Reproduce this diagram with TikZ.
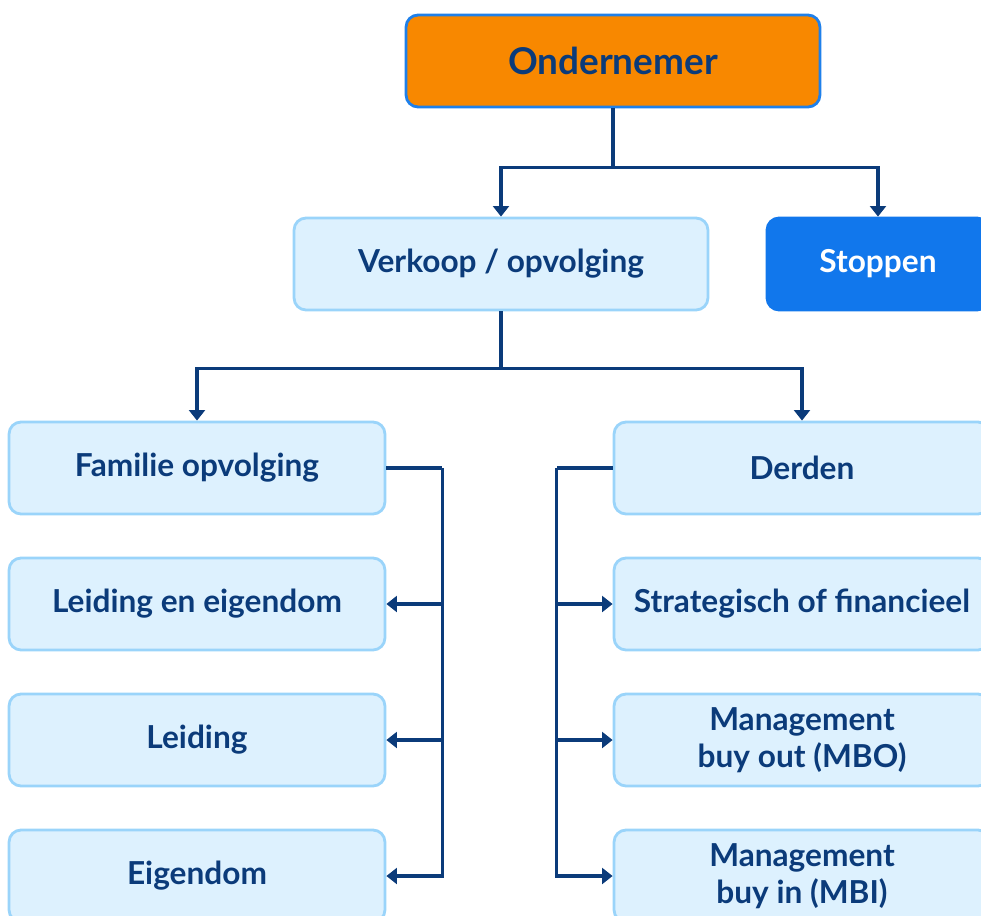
\documentclass[tikz,border=0pt]{standalone}
\usepackage{fontspec}
\setmainfont{Lato}
\usetikzlibrary{arrows.meta}
\definecolor{navy}{HTML}{0B3B7A}
\definecolor{oranje}{HTML}{F88800}
\definecolor{oranjerand}{HTML}{1F80EA}
\definecolor{lichtblauw}{HTML}{DDF1FE}
\definecolor{lichtrand}{HTML}{9AD4FA}
\definecolor{stopblauw}{HTML}{1177EC}
\def\BoxH{1.84cm}
\def\ColW{7.52cm}
\tikzset{
  every node/.style={font=\bfseries\fontsize{18}{21}\selectfont},
  keuze/.style={draw=lichtrand, fill=lichtblauw, text=navy, line width=1.6pt,
    rounded corners=0.24cm, minimum height=\BoxH, minimum width=\ColW,
    align=center, inner sep=0pt},
  pijl/.style={draw=navy, line width=1.8pt, -{Triangle[length=6pt,width=9pt]}},
  lijn/.style={draw=navy, line width=1.8pt}
}

\begin{document}
\begin{tikzpicture}[x=0.02cm, y=-0.02cm]
  \clip (0,0) rectangle (981,916);

  % bovenste niveau
  \node[keuze, fill=oranje, draw=oranjerand, minimum width=8.28cm,
        font=\bfseries\fontsize{21}{25}\selectfont] (ond) at (613,61) {Ondernemer};
  \node[keuze, minimum width=8.28cm] (verk) at (501,264) {Verkoop / opvolging};
  \node[keuze, fill=stopblauw, draw=stopblauw, text=white, minimum width=4.44cm] (stop) at (878,264) {Stoppen};

  % linker kolom
  \node[keuze] (fam)  at (197,468) {Familie opvolging};
  \node[keuze] (leideig) at (197,604) {Leiding en eigendom};
  \node[keuze] (leid) at (197,740) {Leiding};
  \node[keuze] (eig)  at (197,876) {Eigendom};

  % rechter kolom
  \node[keuze] (derd)  at (802,468) {Derden};
  \node[keuze] (strat) at (802,604) {Strategisch of financieel};
  \node[keuze] (mbo)   at (802,740) {Management\\buy out (MBO)};
  \node[keuze] (mbi)   at (802,876) {Management\\buy in (MBI)};

  % verbindingen
  \draw[pijl] (ond.south) -- ++(0,59) -| (verk.north);
  \draw[pijl] (ond.south) -- ++(0,59) -| (stop.north);

  \draw[pijl] (verk.south) -- ++(0,57) -| (fam.north);
  \draw[pijl] (verk.south) -- ++(0,57) -| (derd.north);

  \draw[lijn] (fam.east) -- ++(56,0) coordinate (lbus);
  \draw[pijl] (lbus) |- (leideig.east);
  \draw[pijl] (lbus) |- (leid.east);
  \draw[pijl] (lbus) |- (eig.east);

  \draw[lijn] (derd.west) -- ++(-56,0) coordinate (rbus);
  \draw[pijl] (rbus) |- (strat.west);
  \draw[pijl] (rbus) |- (mbo.west);
  \draw[pijl] (rbus) |- (mbi.west);
\end{tikzpicture}
\end{document}
